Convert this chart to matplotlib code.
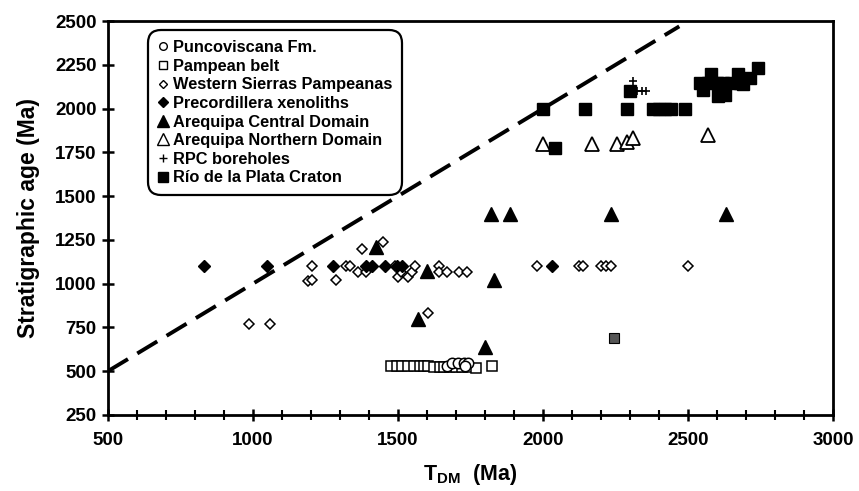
import numpy as np
import matplotlib
matplotlib.use("Agg")
import matplotlib.pyplot as plt
from matplotlib.lines import Line2D

plt.rcParams['font.family'] = ['Liberation Sans', 'DejaVu Sans']
plt.rcParams['font.weight'] = 'bold'
plt.rcParams['mathtext.fontset'] = 'custom'
plt.rcParams['mathtext.rm'] = 'Liberation Sans:bold'
plt.rcParams['mathtext.bf'] = 'Liberation Sans:bold'

# data (T_DM, stratigraphic age)
punco_x = [1670, 1685, 1706, 1726, 1743, 1730]
punco_y = [530, 545, 548, 548, 545, 530]

pampean_x = [1475, 1495, 1515, 1535, 1555, 1575, 1590, 1605, 1625, 1645,
             1660, 1680, 1700, 1720, 1740, 1770, 1825]
pampean_y = [530, 530, 530, 530, 530, 530, 530, 530, 525, 525,
             525, 525, 525, 525, 525, 520, 530]

wsp_x = [1375, 1450, 1205, 1190, 1205, 1287, 1322, 1333, 1362, 1390, 1489,
         1500, 1512, 1535, 1547, 1558, 1640, 1640, 1668, 1709, 1738, 1605,
         985, 1060, 1980, 2125, 2137, 2200, 2217, 2235, 2500]
wsp_y = [1200, 1240, 1100, 1015, 1020, 1020, 1100, 1100, 1065, 1065, 1100,
         1040, 1065, 1040, 1065, 1100, 1100, 1065, 1065, 1065, 1065, 835,
         770, 770, 1100, 1100, 1100, 1100, 1100, 1100, 1100]

xeno_x = [830, 1050, 1275, 1390, 1410, 1455, 1495, 1515, 2030]
xeno_y = [1100, 1100, 1100, 1100, 1100, 1100, 1100, 1100, 1100]

acd_x = [1425, 1600, 1830, 1570, 1800, 1820, 1885, 2235, 2630]
acd_y = [1210, 1070, 1020, 800, 640, 1400, 1400, 1400, 1400]

and_x = [2000, 2170, 2255, 2290, 2310, 2570]
and_y = [1800, 1800, 1795, 1810, 1830, 1850]

rpc_x = [2310, 2325, 2340, 2355]
rpc_y = [2160, 2100, 2100, 2100]

rdp_x = [2000, 2145, 2290, 2380, 2400, 2420, 2440, 2490, 2040, 2300,
         2541, 2552, 2570, 2581, 2599, 2604, 2621, 2627, 2650, 2674,
         2680, 2691, 2714, 2743]
rdp_y = [2000, 2000, 2000, 2000, 2000, 2000, 2000, 2000, 1775, 2100,
         2147, 2109, 2147, 2195, 2147, 2071, 2147, 2080, 2147, 2195,
         2147, 2140, 2176, 2233]

grey_x = [2245]
grey_y = [690]

# 1:1 reference line end points
line_x = [500, 2470]
line_y = [500, 2470]

fig = plt.figure(figsize=(8.59, 4.91), dpi=100)
ax = fig.add_axes([0.1257, 0.155, 0.844, 0.802])

ax.plot(line_x, line_y, color='k', lw=2.8, dashes=(6, 2.8), zorder=1)

ax.plot(pampean_x, pampean_y, 's', ms=7, mfc='white', mec='k', mew=1.1, ls='none')
ax.plot(punco_x, punco_y, 'o', ms=7.5, mfc='white', mec='k', mew=1.1, ls='none')
ax.plot(wsp_x, wsp_y, 'D', ms=5.5, mfc='white', mec='k', mew=1.1, ls='none')
ax.plot(xeno_x, xeno_y, 'D', ms=6, mfc='k', mec='k', ls='none')
ax.plot(acd_x, acd_y, '^', ms=10, mfc='k', mec='k', ls='none')
ax.plot(and_x, and_y, '^', ms=10, mfc='white', mec='k', mew=1.3, ls='none')
ax.plot(rdp_x, rdp_y, 's', ms=8, mfc='k', mec='k', ls='none')
ax.plot(rpc_x, rpc_y, '+', ms=6, mec='k', mew=1.2, ls='none')
ax.plot(grey_x, grey_y, 's', ms=7, mfc='#555555', mec='k', mew=0.8, ls='none')

ax.set_xlim(500, 3000)
ax.set_ylim(250, 2500)
ax.set_xticks(np.arange(500, 3001, 500))
ax.set_xticks(np.arange(500, 3001, 100), minor=True)
ax.set_yticks(np.arange(250, 2501, 250))
ax.tick_params(axis='both', which='major', direction='inout', length=9, width=1.8,
               labelsize=13.5)
ax.tick_params(axis='x', which='minor', direction='inout', length=7, width=1.5)
ax.tick_params(axis='x', which='major', pad=8)
for lab in ax.get_xticklabels() + ax.get_yticklabels():
    lab.set_fontweight('bold')
for sp in ax.spines.values():
    sp.set_linewidth(2)

ax.set_xlabel(r'T$_{\mathrm{DM}}$  (Ma)', fontsize=15.5, fontweight='bold', labelpad=9)
ax.set_ylabel('Stratigraphic age (Ma)', fontsize=16.5, fontweight='bold', labelpad=11)

handles = [
    Line2D([], [], marker='o', ls='none', ms=5.5, mfc='white', mec='k', mew=1),
    Line2D([], [], marker='s', ls='none', ms=5.5, mfc='white', mec='k', mew=1),
    Line2D([], [], marker='D', ls='none', ms=4.5, mfc='white', mec='k', mew=1),
    Line2D([], [], marker='D', ls='none', ms=5, mfc='k', mec='k'),
    Line2D([], [], marker='^', ls='none', ms=9, mfc='k', mec='k'),
    Line2D([], [], marker='^', ls='none', ms=9, mfc='white', mec='k', mew=1),
    Line2D([], [], marker='+', ls='none', ms=5.5, mec='k', mew=1),
    Line2D([], [], marker='s', ls='none', ms=6.5, mfc='k', mec='k'),
]
labels = ['Puncoviscana Fm.', 'Pampean belt', 'Western Sierras Pampeanas',
          'Precordillera xenoliths', 'Arequipa Central Domain',
          'Arequipa Northern Domain', 'RPC boreholes', 'Río de la Plata Craton']
leg = ax.legend(handles, labels, loc='upper left', bbox_to_anchor=(0.05, 0.987),
                prop={'size': 11.8, 'weight': 'bold'}, handlelength=0.6,
                handletextpad=0.3, labelspacing=0.22, borderpad=0.35,
                fancybox=True, frameon=True, framealpha=1)
leg.get_frame().set_edgecolor('k')
leg.get_frame().set_linewidth(1.6)
leg.get_frame().set_boxstyle('round,pad=0.25,rounding_size=0.8')

fig.savefig('out.png', dpi=100)
